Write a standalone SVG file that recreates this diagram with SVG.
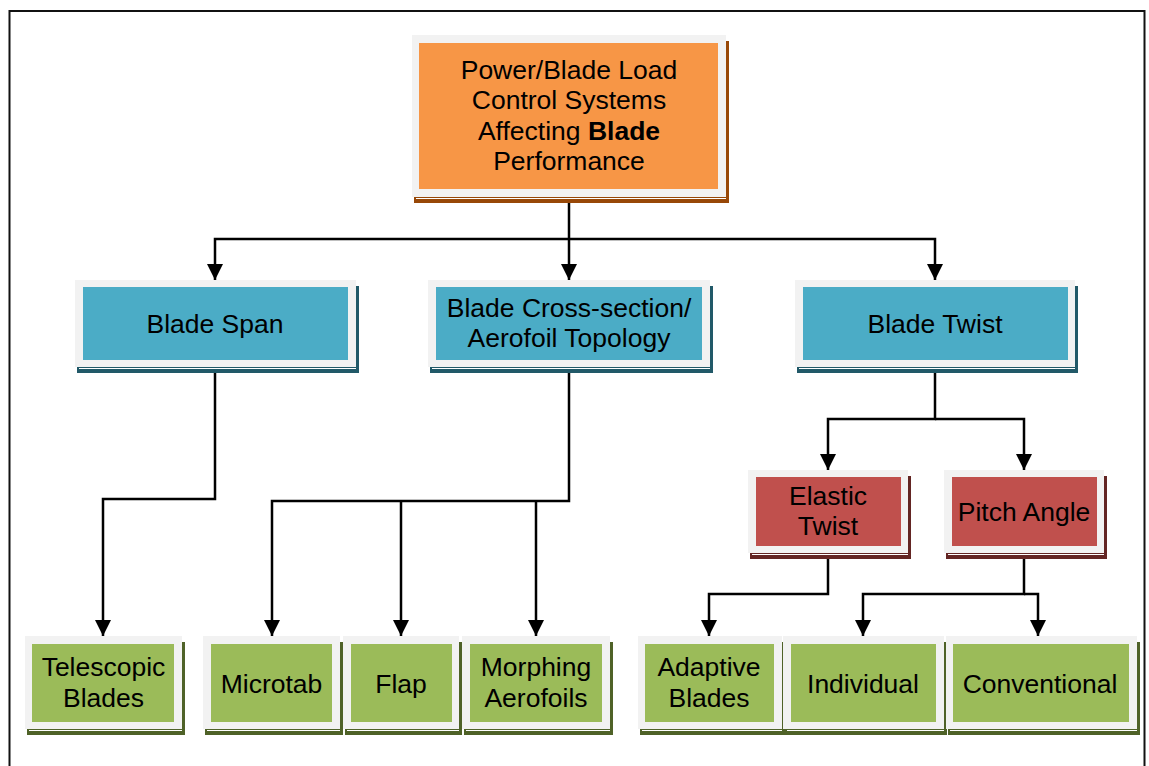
<svg xmlns="http://www.w3.org/2000/svg" width="1149" height="766" viewBox="0 0 1149 766">
<style>
text{font-family:"Liberation Sans",Arial,sans-serif;font-size:26.5px;fill:#000;text-anchor:middle}
.outer{fill:#f2f2f2}
.hl{stroke:#ffffff;stroke-width:1}
.o{fill:#f79646}.os{fill:#984807}
.b{fill:#4bacc6}.bs{fill:#215968}
.r{fill:#c0504d}.rs{fill:#632523}
.g{fill:#9bbb59}.gs{fill:#4f6228}
.conn{fill:none;stroke:#000;stroke-width:2.5}
</style>
<defs>
<marker id="arr" viewBox="0 0 16 16" refX="16" refY="8" markerWidth="16" markerHeight="16" markerUnits="userSpaceOnUse" orient="auto">
<path d="M0,0 L16,8 L0,16 z" fill="#000"/>
</marker>
</defs>
<rect x="9.5" y="11" width="1135" height="800" fill="#fff" stroke="#111" stroke-width="2"/>

<g id="connectors" class="conn">
<path d="M569 197 V280" marker-end="url(#arr)"/>
<path d="M569 239 H215 V280" marker-end="url(#arr)"/>
<path d="M569 239 H935 V280" marker-end="url(#arr)"/>
<path d="M215 367 V499 H103 V636" marker-end="url(#arr)"/>
<path d="M569 367 V501 H272 V636" marker-end="url(#arr)"/>
<path d="M401 501 V636" marker-end="url(#arr)"/>
<path d="M536 501 V636" marker-end="url(#arr)"/>
<path d="M935 367 V419 H828 V470" marker-end="url(#arr)"/>
<path d="M935 419 H1024 V470" marker-end="url(#arr)"/>
<path d="M828 553 V594 H709 V636" marker-end="url(#arr)"/>
<path d="M1024 553 V594 H863 V636" marker-end="url(#arr)"/>
<path d="M1024 594 H1038 V636" marker-end="url(#arr)"/>
</g>

<g id="node-top">
<rect class="os" x="414" y="41" width="315" height="162"/>
<rect class="outer" x="412" y="35" width="314" height="162"/>
<line class="hl" x1="416" y1="198.5" x2="726" y2="198.5"/>
<rect class="o" x="419" y="43" width="299" height="146"/>
<text x="569" y="78.5">Power/Blade Load</text>
<text x="569" y="109">Control Systems</text>
<text x="569" y="139.5">Affecting <tspan font-weight="bold">Blade</tspan></text>
<text x="569" y="170">Performance</text>
</g>

<g id="node-span">
<rect class="bs" x="77" y="286" width="282" height="87"/>
<rect class="outer" x="75" y="280" width="281" height="87"/>
<line class="hl" x1="79" y1="368.5" x2="356" y2="368.5"/>
<rect class="b" x="83" y="287" width="265" height="73"/>
<text x="215" y="333">Blade Span</text>
</g>

<g id="node-cross">
<rect class="bs" x="430" y="286" width="283" height="87"/>
<rect class="outer" x="428" y="280" width="282" height="87"/>
<line class="hl" x1="432" y1="368.5" x2="710" y2="368.5"/>
<rect class="b" x="436" y="287" width="266" height="73"/>
<text x="569" y="317">Blade Cross-section/</text>
<text x="569" y="347">Aerofoil Topology</text>
</g>

<g id="node-twist">
<rect class="bs" x="797" y="286" width="281" height="87"/>
<rect class="outer" x="795" y="280" width="280" height="87"/>
<line class="hl" x1="799" y1="368.5" x2="1075" y2="368.5"/>
<rect class="b" x="803" y="287" width="265" height="73"/>
<text x="935" y="333">Blade Twist</text>
</g>

<g id="node-elastic">
<rect class="rs" x="750" y="476" width="161" height="83"/>
<rect class="outer" x="748" y="470" width="160" height="83"/>
<line class="hl" x1="752" y1="554.5" x2="908" y2="554.5"/>
<rect class="r" x="756" y="477" width="145" height="69"/>
<text x="828" y="505">Elastic</text>
<text x="828" y="535">Twist</text>
</g>

<g id="node-pitch">
<rect class="rs" x="946" y="476" width="161" height="83"/>
<rect class="outer" x="944" y="470" width="160" height="83"/>
<line class="hl" x1="948" y1="554.5" x2="1104" y2="554.5"/>
<rect class="r" x="952" y="477" width="145" height="69"/>
<text x="1024" y="521">Pitch Angle</text>
</g>

<g id="node-telescopic">
<rect class="gs" x="27" y="642" width="158" height="93"/>
<rect class="outer" x="25" y="636" width="157" height="93"/>
<line class="hl" x1="29" y1="730.5" x2="182" y2="730.5"/>
<rect class="g" x="32" y="644" width="142" height="78"/>
<text x="103.5" y="676">Telescopic</text>
<text x="103.5" y="707">Blades</text>
</g>

<g id="node-microtab">
<rect class="gs" x="205" y="642" width="138" height="93"/>
<rect class="outer" x="203" y="636" width="137" height="93"/>
<line class="hl" x1="207" y1="730.5" x2="340" y2="730.5"/>
<rect class="g" x="211" y="644" width="121" height="78"/>
<text x="271.5" y="693">Microtab</text>
</g>

<g id="node-flap">
<rect class="gs" x="345" y="642" width="117" height="93"/>
<rect class="outer" x="343" y="636" width="116" height="93"/>
<line class="hl" x1="347" y1="730.5" x2="459" y2="730.5"/>
<rect class="g" x="351" y="644" width="101" height="78"/>
<text x="401" y="693">Flap</text>
</g>

<g id="node-morphing">
<rect class="gs" x="464" y="642" width="149" height="93"/>
<rect class="outer" x="462" y="636" width="148" height="93"/>
<line class="hl" x1="466" y1="730.5" x2="610" y2="730.5"/>
<rect class="g" x="470" y="644" width="132" height="78"/>
<text x="536" y="676">Morphing</text>
<text x="536" y="707">Aerofoils</text>
</g>

<g id="node-adaptive">
<rect class="gs" x="640" y="642" width="145" height="93"/>
<rect class="outer" x="638" y="636" width="144" height="93"/>
<line class="hl" x1="642" y1="730.5" x2="782" y2="730.5"/>
<rect class="g" x="645" y="644" width="129" height="78"/>
<text x="709" y="676">Adaptive</text>
<text x="709" y="707">Blades</text>
</g>

<g id="node-individual">
<rect class="gs" x="785" y="642" width="162" height="93"/>
<rect class="outer" x="783" y="636" width="161" height="93"/>
<line class="hl" x1="787" y1="730.5" x2="944" y2="730.5"/>
<rect class="g" x="791" y="644" width="145" height="78"/>
<text x="863" y="693">Individual</text>
</g>

<g id="node-conventional">
<rect class="gs" x="948" y="642" width="192" height="93"/>
<rect class="outer" x="946" y="636" width="191" height="93"/>
<line class="hl" x1="950" y1="730.5" x2="1137" y2="730.5"/>
<rect class="g" x="953" y="644" width="176" height="78"/>
<text x="1040" y="693">Conventional</text>
</g>
</svg>
